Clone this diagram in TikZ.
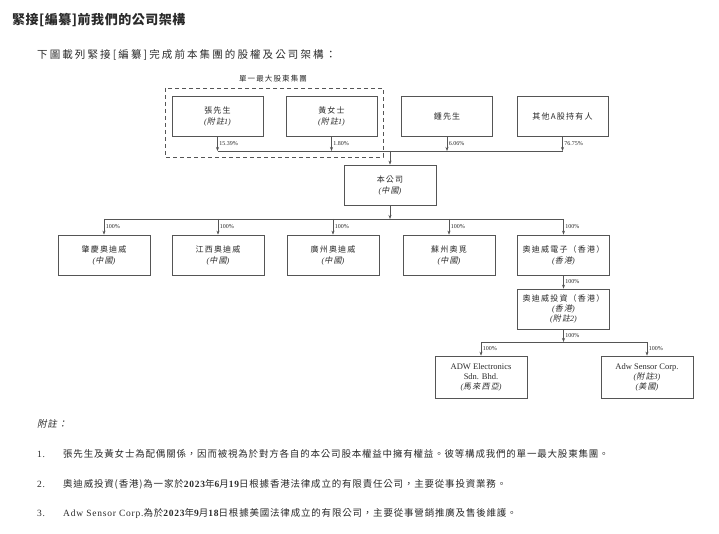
\documentclass[tikz,border=0pt]{standalone}
\usepackage{fontspec}
\setmainfont{Liberation Serif}
\newfontfamily\cjkbox{Noto Sans CJK TC}[LetterSpace=15]
\newfontfamily\cjkboxit{Noto Sans CJK TC}[LetterSpace=15,FakeSlant=0.2]
\newfontfamily\cjknote{Noto Sans CJK TC}[LetterSpace=8.5]
\newfontfamily\cjknoteit{Noto Sans CJK TC}[LetterSpace=8.5,FakeSlant=0.2]
\newfontfamily\cjksub{Noto Sans CJK TC}[LetterSpace=20]
\newfontfamily\cjktitle{Noto Sans CJK TC}[LetterSpace=4]
\newfontfamily\sernote{Liberation Serif}[LetterSpace=8]
\usetikzlibrary{arrows.meta}
\definecolor{linec}{HTML}{555555}
\definecolor{txtc}{HTML}{2A2A2A}
\newcommand\cbx[1]{{\cjkbox #1}}
\newcommand\cbxi[1]{{\itshape(}{\cjkboxit #1}{\itshape)}}
\newcommand\cfz[1]{{\itshape(}{\cjkboxit 附註}{\itshape #1)}}
\begin{document}
\begin{tikzpicture}[x=1pt,y=-1pt,
  orgbox/.style={draw=linec, line width=0.7pt, minimum width=91pt, minimum height=40pt,
    align=center, font=\fontsize{8}{11}\selectfont, text=txtc, inner sep=1pt, fill=white},
  arr/.style={draw=linec, line width=0.6pt, -{Stealth[length=4pt,width=3pt]}},
  busline/.style={draw=linec, line width=0.6pt},
  pct/.style={font=\fontsize{6}{7}\selectfont, text=txtc, right, inner sep=1.5pt},
  notetxt/.style={font=\fontsize{9.5}{11}\selectfont, text=txtc, anchor=west, inner sep=0pt}]
\useasboundingbox (0,0) rectangle (719,534);
\fill[white] (0,0) rectangle (719,534);

% titles
\node[anchor=west, inner sep=0pt, text=txtc, font=\fontsize{13}{15}\selectfont] (title) at (12,20) {\cjktitle\bfseries 緊接[編纂]前我們的公司架構};
\node[anchor=west, inner sep=0pt, text=txtc, font=\fontsize{10.5}{12}\selectfont] (sub) at (37,55) {\cjksub 下圖載列緊接[編纂]完成前本集團的股權及公司架構：};

% group
\node[text=txtc, font=\fontsize{7.5}{9}\selectfont, inner sep=0pt] (grp) at (273,79) {\cbx{單一最大股東集團}};
\draw[linec, line width=0.7pt, dash pattern=on 4pt off 3pt] (165,88) rectangle (383,157);

% top row
\node[orgbox] (zhang) at (217.5,116) {\cbx{張先生}\\\cfz{1}};
\node[orgbox] (huang) at (331.5,116) {\cbx{黃女士}\\\cfz{1}};
\node[orgbox] (zhong) at (447,116) {\cbx{鍾先生}};
\node[orgbox] (others) at (562.5,116) {\cbx{其他A股持有人}};

\coordinate (bus1) at (390,151);
\node[orgbox, minimum width=92pt] (company) at (390,185) {\cbx{本公司}\\\cbxi{中國}};

\draw[busline] (zhang.south |- bus1) -- (others.south |- bus1);
\draw[arr] (zhang.south) -- node[pct]{15.39\%} (zhang.south |- bus1);
\draw[arr] (huang.south) -- node[pct]{1.80\%} (huang.south |- bus1);
\draw[arr] (zhong.south) -- node[pct]{6.06\%} (zhong.south |- bus1);
\draw[arr] (others.south) -- node[pct]{76.75\%} (others.south |- bus1);
\draw[arr] (bus1) -- (company.north);

% middle row
\coordinate (bus2) at (390,219);
\node[orgbox, minimum width=92pt] (c1) at (104,255) {\cbx{肇慶奧迪威}\\\cbxi{中國}};
\node[orgbox, minimum width=92pt] (c2) at (218,255) {\cbx{江西奧迪威}\\\cbxi{中國}};
\node[orgbox, minimum width=92pt] (c3) at (333,255) {\cbx{廣州奧迪威}\\\cbxi{中國}};
\node[orgbox, minimum width=92pt] (c4) at (449,255) {\cbx{蘇州奧覓}\\\cbxi{中國}};
\node[orgbox, minimum width=92pt] (c5) at (563.5,255) {\cbx{奧迪威電子（香港）}\\\cbxi{香港}};

\draw[arr] (company.south) -- (bus2);
\draw[busline] (c1.north |- bus2) -- (c5.north |- bus2);
\foreach \n in {c1,c2,c3,c4,c5}
  \draw[arr] (\n.north |- bus2) -- node[pct]{100\%} (\n.north);

% investment
\node[orgbox, minimum width=92pt, font=\fontsize{8}{9.8}\selectfont] (inv) at (563.5,309) {\cbx{奧迪威投資（香港）}\\\cbxi{香港}\\\cfz{2}};
\draw[arr] (c5.south) -- node[pct]{100\%} (inv.north);

% bottom
\coordinate (bus3) at (563.5,342);
\node[orgbox, minimum width=92pt, minimum height=42pt, font=\fontsize{8.5}{10}\selectfont] (adw) at (481,377) {ADW Electronics\\Sdn. Bhd.\\{\fontsize{8}{9}\selectfont\cbxi{馬來西亞}}};
\node[orgbox, minimum width=92pt, minimum height=42pt, font=\fontsize{8.5}{10}\selectfont] (sensor) at (647,377) {Adw Sensor Corp.\\{\fontsize{8}{9}\selectfont\cfz{3}}\\{\fontsize{8}{9}\selectfont\cbxi{美國}}};
\draw[arr] (inv.south) -- node[pct]{100\%} (bus3);
\draw[busline] (adw.north |- bus3) -- (sensor.north |- bus3);
\draw[arr] (adw.north |- bus3) -- node[pct]{100\%} (adw.north);
\draw[arr] (sensor.north |- bus3) -- node[pct]{100\%} (sensor.north);

% notes
\node[notetxt] (fzh) at (37,424) {\cjknoteit 附註：};
\node[notetxt] (n1) at (37,454) {\sernote 1.};
\node[notetxt] (t1) at (63,454) {\cjknote 張先生及黃女士為配偶關係，因而被視為於對方各自的本公司股本權益中擁有權益。彼等構成我們的單一最大股東集團。};
\node[notetxt] (n2) at (37,484) {\sernote 2.};
\node[notetxt] (t2) at (63,484) {{\cjknote 奧迪威投資(香港)為一家於}{\sernote\bfseries 2023}{\cjknote 年}{\sernote\bfseries 6}{\cjknote 月}{\sernote\bfseries 19}{\cjknote 日根據香港法律成立的有限責任公司，主要從事投資業務。}};
\node[notetxt] (n3) at (37,513) {\sernote 3.};
\node[notetxt] (t3) at (63,513) {{\sernote Adw Sensor Corp.}{\cjknote 為於}{\sernote\bfseries 2023}{\cjknote 年}{\sernote\bfseries 9}{\cjknote 月}{\sernote\bfseries 18}{\cjknote 日根據美國法律成立的有限公司，主要從事營銷推廣及售後維護。}};
\end{tikzpicture}
\end{document}
